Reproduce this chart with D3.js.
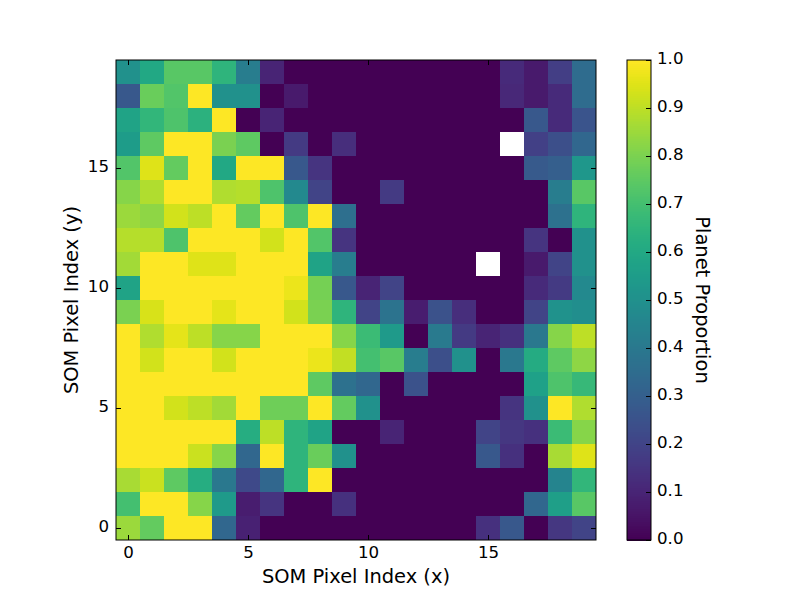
<!DOCTYPE html>
<html>
<head>
<meta charset="utf-8">
<script src="https://cdn.jsdelivr.net/npm/d3@7"></script>
<style>
  html, body { margin: 0; background: #fff; }
  text { font-family: "DejaVu Sans", sans-serif; font-size: 19.44px; fill: #000; }
  .tick text { font-family: "DejaVu Sans", sans-serif; font-size: 16.67px; fill: #000; }
</style>
</head>
<body>
<svg id="chart" width="800" height="600"></svg>
<script>
// ===================================================================
// SOM planet proportion map, rows listed from y = 19 down to y = 0
// ===================================================================
const _ = null; // unfilled SOM pixel
const row19 = [.50,.60,.74,.74,.65,.42,.10,0,0,0,0,0,0,0,0,0,.12,.07,.18,.35];
const row18 = [.27,.77,.73,1,.50,.50,0,.07,0,0,0,0,0,0,0,0,.11,.07,.12,.35];
const row17 = [.58,.66,.72,.64,1,0,.10,0,0,0,0,0,0,0,0,0,0,.27,.12,.26];
const row16 = [.55,.75,1,1,.80,.75,0,.17,0,.13,0,0,0,0,0,0,_,.19,.24,.33];
const row15 = [.73,.95,.76,1,.60,1,1,.27,.15,0,0,0,0,0,0,0,0,.28,.30,.53];
const row14 = [.82,.88,1,1,.88,.89,.72,.47,.20,0,0,.17,0,0,0,0,0,0,.42,.74];
const row13 = [.85,.83,.93,.90,1,.76,1,.72,1,.36,0,0,0,0,0,0,0,0,.37,.65];
const row12 = [.89,.89,.72,1,1,1,.93,1,.73,.15,0,0,0,0,0,0,0,.15,0,.50];
const row11 = [.86,1,1,.95,.95,1,1,1,.58,.42,0,0,0,0,0,_,0,.07,.20,.50];
const row10 = [.58,1,1,1,1,1,1,.97,.79,.27,.10,.20,0,0,0,0,0,.12,.17,.47];
const row9  = [.80,.94,1,1,.96,1,1,.93,.80,.65,.20,.38,.08,.25,.13,0,0,.20,.51,.49];
const row8  = [1,.88,.96,.90,.82,.82,1,1,1,.82,.68,.54,0,.41,.17,.10,.14,.40,.82,.90];
const row7  = [1,.93,1,1,.93,1,1,1,.97,.91,.70,.74,.42,.24,.50,0,.40,.61,.75,.83];
const row6  = [1,1,1,1,1,1,1,1,.75,.37,.33,0,.25,0,0,0,0,.57,.72,.67];
const row5  = [1,1,.93,.90,.86,1,.78,.78,1,.76,.50,0,0,0,0,0,.15,.50,1,.88];
const row4  = [1,1,1,1,1,.62,.90,.65,.58,0,0,.10,0,0,0,.20,.16,.14,.68,.82];
const row3  = [1,1,1,.92,.82,.33,1,.65,.77,.50,0,0,0,0,0,.27,.14,0,.87,.95];
const row2  = [.87,.92,.75,.62,.40,.22,.33,.65,1,0,0,0,0,0,0,0,0,0,.45,.66];
const row1  = [.70,1,1,.82,.54,.08,.15,0,0,.14,0,0,0,0,0,0,0,.33,.56,.74];
const row0  = [.85,.76,1,1,.33,.09,0,0,0,0,0,0,0,0,0,.14,.27,0,.16,.20];
const planetRows = [row0, row1, row2, row3, row4, row5, row6, row7, row8, row9,
  row10, row11, row12, row13, row14, row15, row16, row17, row18, row19];

const xTickValues = [0, 5, 10, 15];
const yTickValues = [0, 5, 10, 15];
const colorTickValues = [0, .1, .2, .3, .4, .5, .6, .7, .8, .9, 1];

const svg = d3.select('#chart');

const x = d3.scaleLinear().domain([-0.5, 19.5]).range([116, 596]);
const y = d3.scaleLinear().domain([-0.5, 19.5]).range([540, 60]);
const c = d3.scaleLinear().domain([0, 1]).range([540, 60]);
const color = d3.scaleSequential(d3.interpolateViridis).domain([0, 1]);

// Heatmap cells
const cells = planetRows.flatMap((row, j) => row.map((v, i) => ({ i, j, v })));
svg.append('g')
  .attr('shape-rendering', 'crispEdges')
  .selectAll('rect')
  .data(cells.filter(d => d.v !== null))
  .join('rect')
  .attr('x', d => x(d.i - 0.5))
  .attr('y', d => y(d.j + 0.5))
  .attr('width', d => x(d.i + 0.5) - x(d.i - 0.5))
  .attr('height', d => y(d.j - 0.5) - y(d.j + 0.5))
  .attr('fill', d => color(d.v));

// Ticks point inward on all four sides, labels only on left and bottom
function styleAxis(g) {
  g.select('.domain').remove();
  g.selectAll('.tick line').attr('stroke', '#000').attr('stroke-width', 1);
}

svg.append('g').attr('transform', 'translate(0,540)')
  .call(d3.axisBottom(x).tickValues(xTickValues).tickSizeInner(-5).tickPadding(6).tickFormat(d3.format('d')))
  .call(styleAxis);
svg.append('g').attr('transform', 'translate(0,60)')
  .call(d3.axisTop(x).tickValues(xTickValues).tickSizeInner(-5).tickFormat(''))
  .call(styleAxis);
svg.append('g').attr('transform', 'translate(116,0)')
  .call(d3.axisLeft(y).tickValues(yTickValues).tickSizeInner(-5).tickPadding(7).tickFormat(d3.format('d')))
  .call(styleAxis)
  .call(g => g.selectAll('.tick text').attr('dy', '0.23em'));
svg.append('g').attr('transform', 'translate(596,0)')
  .call(d3.axisRight(y).tickValues(yTickValues).tickSizeInner(-5).tickFormat(''))
  .call(styleAxis);

svg.append('rect')
  .attr('x', 116).attr('y', 60).attr('width', 480).attr('height', 480)
  .attr('fill', 'none').attr('stroke', '#000').attr('stroke-width', 1);

svg.append('text').attr('x', 356).attr('y', 583).attr('text-anchor', 'middle')
  .text('SOM Pixel Index (x)');
svg.append('text').attr('transform', 'translate(78,300) rotate(-90)').attr('text-anchor', 'middle')
  .text('SOM Pixel Index (y)');

// Colorbar
svg.append('g')
  .attr('shape-rendering', 'crispEdges')
  .selectAll('rect')
  .data(d3.range(256))
  .join('rect')
  .attr('x', 627)
  .attr('width', 24)
  .attr('y', d => c((d + 1) / 256))
  .attr('height', 480 / 256 + 0.5)
  .attr('fill', d => color(d / 255));

svg.append('g').attr('transform', 'translate(651,0)')
  .call(d3.axisRight(c).tickValues(colorTickValues).tickSizeInner(-5).tickPadding(6).tickFormat(d3.format('.1f')))
  .call(styleAxis)
  .call(g => g.selectAll('.tick text').attr('dy', '0.23em'));

svg.append('rect')
  .attr('x', 627).attr('y', 60).attr('width', 24).attr('height', 480)
  .attr('fill', 'none').attr('stroke', '#000').attr('stroke-width', 1);

svg.append('text').attr('transform', 'translate(696,300) rotate(90)').attr('text-anchor', 'middle')
  .text('Planet Proportion');
</script>
</body>
</html>
